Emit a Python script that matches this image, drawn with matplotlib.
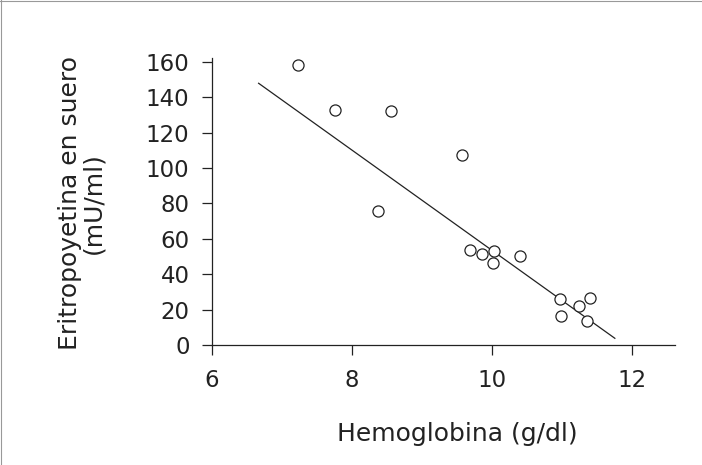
import matplotlib
matplotlib.use("Agg")
import matplotlib.pyplot as plt
from matplotlib.lines import Line2D

# --- Datos ---
hemoglobina = [7.23, 7.76, 8.56, 9.57, 8.37, 9.69, 9.86, 10.03, 10.02,
               10.41, 10.98, 10.99, 11.25, 11.41, 11.36]
eritropoyetina = [158.1, 132.7, 132.3, 107.3, 75.8, 53.7, 51.2, 53.1, 46.1,
                  50.3, 25.8, 16.5, 22.0, 26.7, 13.7]

# recta de regresión (extremos)
recta_x = [6.67, 11.76]
recta_y = [147.8, 3.8]

x_ticks = [6, 8, 10, 12]
y_ticks = [0, 20, 40, 60, 80, 100, 120, 140, 160]

plt.rcParams['font.family'] = ['DejaVu Sans']
color_tinta = "#222222"

fig = plt.figure(figsize=(7.02, 4.65), dpi=100)
ax = fig.add_axes([0.3016, 0.258, 0.66, 0.617])

# --- Puntos y recta ---
ax.plot(hemoglobina, eritropoyetina, linestyle="none", marker="o",
        markersize=8, markerfacecolor="white", markeredgecolor=color_tinta,
        markeredgewidth=0.9, zorder=3)
ax.plot(recta_x, recta_y, color=color_tinta, linewidth=0.9, zorder=2)

# --- Ejes ---
ax.set_xlim(6, 12.62)
ax.set_ylim(0, 162)
for lado in ["top", "right"]:
    ax.spines[lado].set_visible(False)
for lado in ["left", "bottom"]:
    ax.spines[lado].set_color(color_tinta)
    ax.spines[lado].set_linewidth(0.9)

ax.set_xticks(x_ticks)
ax.set_yticks(y_ticks)
ax.tick_params(axis="both", direction="out", length=7, width=0.9,
               color=color_tinta, labelcolor=color_tinta, labelsize=16.5)
ax.tick_params(axis="x", pad=10)
ax.tick_params(axis="y", pad=9)

ax.set_xlabel("Hemoglobina (g/dl)", fontsize=18, color=color_tinta)
ax.xaxis.label.set_va("center")
ax.xaxis.set_label_coords(0.5295, -0.31)

ax.set_ylabel("Eritropoyetina en suero\n(mU/ml)", fontsize=18,
              color=color_tinta, linespacing=1.0)
ax.yaxis.label.set_va("center")
ax.yaxis.set_label_coords(-0.281, 0.495)

# marco gris del escaneo (arriba e izquierda)
fig.add_artist(Line2D([0.0015, 0.0015], [0, 1], color="#999999",
                      linewidth=0.8, transform=fig.transFigure))
fig.add_artist(Line2D([0, 1], [0.997, 0.997], color="#999999",
                      linewidth=0.8, transform=fig.transFigure))

fig.savefig("out.png", dpi=100)
